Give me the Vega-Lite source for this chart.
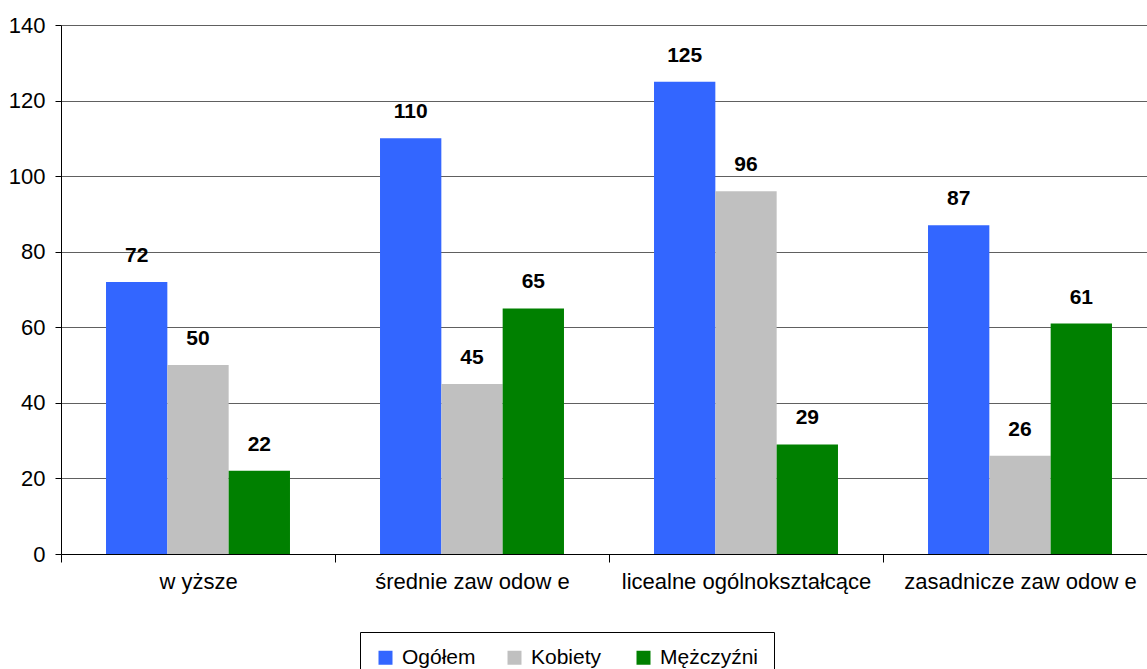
{
  "$schema": "https://vega.github.io/schema/vega-lite/v6.json",
  "autosize": {"type": "none"},
  "width": 1096,
  "height": 529,
  "padding": {"left": 61, "top": 25, "right": 0, "bottom": 115},
  "background": "white",
  "config": {
    "font": "Liberation Sans",
    "view": {"stroke": null}
  },
  "data": {
    "values": [
      {"kat": "w yższe", "seria": "Ogółem", "v": 72},
      {"kat": "w yższe", "seria": "Kobiety", "v": 50},
      {"kat": "w yższe", "seria": "Mężczyźni", "v": 22},
      {"kat": "średnie zaw odow e", "seria": "Ogółem", "v": 110},
      {"kat": "średnie zaw odow e", "seria": "Kobiety", "v": 45},
      {"kat": "średnie zaw odow e", "seria": "Mężczyźni", "v": 65},
      {"kat": "licealne ogólnokształcące", "seria": "Ogółem", "v": 125},
      {"kat": "licealne ogólnokształcące", "seria": "Kobiety", "v": 96},
      {"kat": "licealne ogólnokształcące", "seria": "Mężczyźni", "v": 29},
      {"kat": "zasadnicze zaw odow e", "seria": "Ogółem", "v": 87},
      {"kat": "zasadnicze zaw odow e", "seria": "Kobiety", "v": 26},
      {"kat": "zasadnicze zaw odow e", "seria": "Mężczyźni", "v": 61}
    ]
  },
  "encoding": {
    "x": {
      "field": "kat", "type": "nominal", "sort": null,
      "scale": {"paddingInner": 0, "paddingOuter": 0},
      "axis": {
        "title": null, "labelAngle": 0, "labelFontSize": 22, "labelColor": "black",
        "labelLimit": 0, "domainColor": "black", "tickColor": "black", "tickSize": 8,
        "tickBand": "extent", "labelPadding": 9, "grid": false
      }
    },
    "xOffset": {
      "field": "seria", "type": "nominal", "sort": ["Ogółem", "Kobiety", "Mężczyźni"],
      "scale": {"paddingInner": 0, "paddingOuter": 0.734}
    },
    "y": {
      "field": "v", "type": "quantitative",
      "scale": {"domain": [0, 140], "nice": false},
      "axis": {
        "title": null, "values": [0, 20, 40, 60, 80, 100, 120, 140],
        "labelFontSize": 22, "labelColor": "black", "labelPadding": 10,
        "domainColor": "black", "tickColor": "black", "tickSize": 6,
        "gridColor": "#606060", "gridWidth": 1
      }
    }
  },
  "layer": [
    {
      "mark": {"type": "bar"},
      "encoding": {
        "color": {
          "field": "seria", "type": "nominal",
          "sort": ["Ogółem", "Kobiety", "Mężczyźni"],
          "scale": {"domain": ["Ogółem", "Kobiety", "Mężczyźni"], "range": ["#3366FF", "#C0C0C0", "#008000"]},
          "legend": {
            "title": null, "orient": "none", "direction": "horizontal",
            "legendX": 299, "legendY": 607,
            "symbolType": "square", "symbolSize": 196, "symbolStrokeWidth": 0,
            "labelFontSize": 21, "labelColor": "black", "labelOffset": 6,
            "gridAlign": "all", "columnPadding": 3, "padding": 15,
            "strokeColor": "black", "fillColor": "white"
          }
        }
      }
    },
    {
      "mark": {"type": "text", "baseline": "alphabetic", "dy": -20, "fontSize": 21, "fontWeight": "bold", "color": "black"},
      "encoding": {"text": {"field": "v", "type": "quantitative"}}
    }
  ]
}
